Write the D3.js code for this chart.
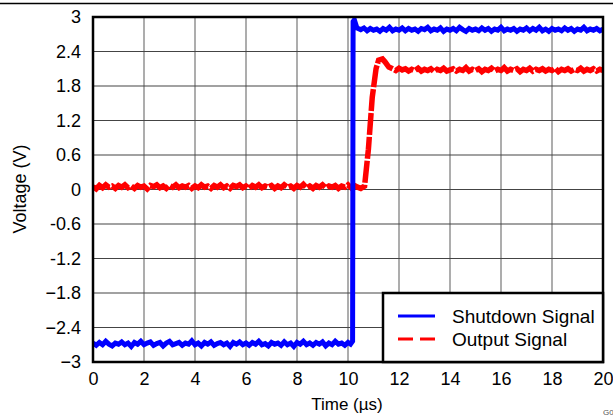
<!DOCTYPE html>
<html><head><meta charset="utf-8">
<script src="https://cdn.jsdelivr.net/npm/d3@7"></script>
<style>body{margin:0;background:#fff}svg{display:block;font-family:"Liberation Sans",Arial,sans-serif}</style>
</head><body><svg id="c" width="613" height="415"></svg>
<script>
const xTicks = [0,2,4,6,8,10,12,14,16,18,20];
const yTicks = [-3,-2.4,-1.8,-1.2,-0.6,0,0.6,1.2,1.8,2.4,3];
const yTickLabels = ["\u22123","\u22122.4","\u22121.8","-1.2","-0.6","0","0.6","1.2","1.8","2.4","3"];
const seriesNames = ["Shutdown Signal","Output Signal"];
const seriesColors = ["#0000ff","#ff0000"];
// [time µs, voltage V]
const shutdownSignal = [
[0,-2.67],[0.125,-2.71],[0.25,-2.66],[0.375,-2.70],[0.5,-2.64],[0.625,-2.69],[0.75,-2.72],[0.875,-2.67],[1,-2.69],[1.125,-2.65],
[1.25,-2.70],[1.375,-2.67],[1.5,-2.73],[1.625,-2.66],[1.75,-2.69],[1.875,-2.64],[2,-2.70],[2.125,-2.67],[2.25,-2.65],[2.375,-2.71],
[2.5,-2.68],[2.625,-2.66],[2.75,-2.72],[2.875,-2.67],[3,-2.64],[3.125,-2.70],[3.25,-2.68],[3.375,-2.66],[3.5,-2.71],[3.625,-2.67],
[3.75,-2.69],[3.875,-2.63],[4,-2.70],[4.125,-2.67],[4.25,-2.72],[4.375,-2.66],[4.5,-2.69],[4.625,-2.65],[4.75,-2.71],[4.875,-2.68],
[5,-2.66],[5.125,-2.70],[5.25,-2.67],[5.375,-2.73],[5.5,-2.66],[5.625,-2.69],[5.75,-2.65],[5.875,-2.70],[6,-2.67],[6.125,-2.71],
[6.25,-2.66],[6.375,-2.69],[6.5,-2.64],[6.625,-2.70],[6.75,-2.68],[6.875,-2.72],[7,-2.66],[7.125,-2.69],[7.25,-2.67],[7.375,-2.71],
[7.5,-2.65],[7.625,-2.70],[7.75,-2.67],[7.875,-2.73],[8,-2.66],[8.125,-2.69],[8.25,-2.64],[8.375,-2.70],[8.5,-2.67],[8.625,-2.71],
[8.75,-2.66],[8.875,-2.69],[9,-2.65],[9.125,-2.72],[9.25,-2.67],[9.375,-2.70],[9.5,-2.64],[9.625,-2.69],[9.75,-2.67],[9.875,-2.71],
[10,-2.66],[10.1,-2.69],[10.18,-2.64],[10.2,2.92],[10.25,2.95],[10.35,2.81],[10.5,2.78],[10.625,2.81],[10.75,2.76],[10.875,2.80],
[11,2.77],[11.125,2.79],[11.25,2.75],[11.375,2.80],[11.5,2.77],[11.625,2.82],[11.75,2.76],[11.875,2.79],[12,2.77],[12.125,2.81],
[12.25,2.76],[12.375,2.80],[12.5,2.77],[12.625,2.79],[12.75,2.75],[12.875,2.80],[13,2.78],[13.125,2.82],[13.25,2.76],[13.375,2.79],
[13.5,2.77],[13.625,2.81],[13.75,2.75],[13.875,2.79],[14,2.77],[14.125,2.80],[14.25,2.76],[14.375,2.82],[14.5,2.78],[14.625,2.75],
[14.75,2.80],[14.875,2.77],[15,2.79],[15.125,2.76],[15.25,2.81],[15.375,2.77],[15.5,2.80],[15.625,2.75],[15.75,2.79],[15.875,2.77],
[16,2.82],[16.125,2.76],[16.25,2.79],[16.375,2.77],[16.5,2.80],[16.625,2.75],[16.75,2.79],[16.875,2.77],[17,2.81],[17.125,2.76],
[17.25,2.80],[17.375,2.77],[17.5,2.82],[17.625,2.76],[17.75,2.79],[17.875,2.75],[18,2.80],[18.125,2.77],[18.25,2.79],[18.375,2.76],
[18.5,2.81],[18.625,2.77],[18.75,2.80],[18.875,2.75],[19,2.79],[19.125,2.77],[19.25,2.82],[19.375,2.76],[19.5,2.79],[19.625,2.77],
[19.75,2.80],[19.875,2.76],[20,2.79]];
const outputSignal = [
[0,0.05],[0.125,0.01],[0.25,0.07],[0.375,0.03],[0.5,0.08],[0.625,0.04],[0.75,0.06],[0.875,0.02],[1,0.07],[1.125,0.04],
[1.25,0.08],[1.375,0.03],[1.5,0.06],[1.625,0.02],[1.75,0.07],[1.875,0.04],[2,0.06],[2.125,0.01],[2.25,0.07],[2.375,0.05],
[2.5,0.08],[2.625,0.03],[2.75,0.06],[2.875,0.02],[3,0.07],[3.125,0.04],[3.25,0.08],[3.375,0.03],[3.5,0.06],[3.625,0.04],
[3.75,0.07],[3.875,0.02],[4,0.06],[4.125,0.03],[4.25,0.08],[4.375,0.04],[4.5,0.06],[4.625,0.02],[4.75,0.07],[4.875,0.04],
[5,0.08],[5.125,0.03],[5.25,0.06],[5.375,0.02],[5.5,0.07],[5.625,0.05],[5.75,0.08],[5.875,0.03],[6,0.06],[6.125,0.02],
[6.25,0.07],[6.375,0.04],[6.5,0.08],[6.625,0.03],[6.75,0.06],[6.875,0.04],[7,0.07],[7.125,0.02],[7.25,0.06],[7.375,0.03],
[7.5,0.08],[7.625,0.04],[7.75,0.06],[7.875,0.02],[8,0.07],[8.125,0.04],[8.25,0.09],[8.375,0.03],[8.5,0.06],[8.625,0.02],
[8.75,0.07],[8.875,0.04],[9,0.08],[9.125,0.03],[9.25,0.06],[9.375,0.04],[9.5,0.07],[9.625,0.02],[9.75,0.06],[9.875,0.04],
[10,0.08],[10.125,0.03],[10.25,0.07],[10.375,0.04],[10.5,0.02],[10.65,0.06],[10.8,0.7],[10.95,1.6],[11.1,2.1],[11.2,2.25],
[11.35,2.27],[11.45,2.22],[11.6,2.13],[11.75,2.10],[11.875,2.07],[12,2.11],[12.125,2.08],[12.25,2.10],[12.375,2.06],[12.5,2.09],
[12.625,2.07],[12.75,2.11],[12.875,2.06],[13,2.09],[13.125,2.07],[13.25,2.10],[13.375,2.05],[13.5,2.09],[13.625,2.07],[13.75,2.11],
[13.875,2.06],[14,2.08],[14.125,2.10],[14.25,2.06],[14.375,2.09],[14.5,2.07],[14.625,2.12],[14.75,2.06],[14.875,2.09],[15,2.07],
[15.125,2.10],[15.25,2.05],[15.375,2.09],[15.5,2.07],[15.625,2.11],[15.75,2.06],[15.875,2.09],[16,2.07],[16.125,2.12],[16.25,2.06],
[16.375,2.09],[16.5,2.07],[16.625,2.10],[16.75,2.05],[16.875,2.09],[17,2.07],[17.125,2.11],[17.25,2.06],[17.375,2.09],[17.5,2.07],
[17.625,2.10],[17.75,2.06],[17.875,2.09],[18,2.07],[18.125,2.11],[18.25,2.05],[18.375,2.09],[18.5,2.07],[18.625,2.10],[18.75,2.06],
[18.875,2.09],[19,2.07],[19.125,2.11],[19.25,2.06],[19.375,2.09],[19.5,2.07],[19.625,2.10],[19.75,2.06],[19.875,2.09],[20,2.07]];

const svg = d3.select("#c");
const m = {l:93, t:17, r:603, b:362};
const x = d3.scaleLinear().domain([0,20]).range([m.l, m.r]);
const y = d3.scaleLinear().domain([-3,3]).range([m.b, m.t]);

svg.append("line").attr("x1",0).attr("x2",613).attr("y1",3.5).attr("y2",3.5).attr("stroke","#000").attr("stroke-width",1.3);

svg.append("g").selectAll("line").data(xTicks.slice(1,-1)).join("line")
  .attr("x1",d=>x(d)).attr("x2",d=>x(d)).attr("y1",m.t).attr("y2",m.b)
  .attr("stroke","#999").attr("stroke-width",1.6);
svg.append("g").selectAll("line").data(yTicks.slice(1,-1)).join("line")
  .attr("x1",m.l).attr("x2",m.r).attr("y1",d=>y(d)).attr("y2",d=>y(d))
  .attr("stroke","#444").attr("stroke-width",1.1);

const xa = svg.append("g").attr("transform",`translate(0,${m.b})`)
  .call(d3.axisBottom(x).tickValues(xTicks).tickSize(0).tickPadding(10).tickFormat(d3.format("d")));
const ya = svg.append("g").attr("transform",`translate(${m.l},0)`)
  .call(d3.axisLeft(y).tickValues(yTicks).tickSize(0).tickPadding(12).tickFormat((d,i)=>yTickLabels[i]));
[xa,ya].forEach(a=>{a.select(".domain").remove();a.selectAll("text").attr("font-size",18).attr("fill","#000").attr("font-family","Liberation Sans, Arial, sans-serif");});

svg.append("clipPath").attr("id","pc").append("rect")
  .attr("x",m.l).attr("y",m.t).attr("width",m.r-m.l).attr("height",m.b-m.t);
const line = d3.line().x(d=>x(d[0])).y(d=>y(d[1]));
const pg = svg.append("g").attr("clip-path","url(#pc)");
pg.append("path").datum(outputSignal).attr("d",line).attr("fill","none")
  .attr("stroke",seriesColors[1]).attr("stroke-width",5.5).attr("stroke-dasharray","22,2");
pg.append("path").datum(shutdownSignal).attr("d",line).attr("fill","none")
  .attr("stroke",seriesColors[0]).attr("stroke-width",5);

svg.append("rect").attr("x",m.l).attr("y",m.t).attr("width",m.r-m.l).attr("height",m.b-m.t)
  .attr("fill","none").attr("stroke","#000").attr("stroke-width",2.5);

const lg = svg.append("g");
lg.append("rect").attr("x",383).attr("y",293).attr("width",220).attr("height",69)
  .attr("fill","#fff").attr("stroke","#000").attr("stroke-width",2.5);
seriesNames.forEach((n,i)=>{
  const yy = 316 + i*23;
  lg.append("line").attr("x1",398).attr("x2",435).attr("y1",yy).attr("y2",yy)
    .attr("stroke",seriesColors[i]).attr("stroke-width",3).attr("stroke-dasharray",i?"15,7":null);
  lg.append("text").attr("x",452).attr("y",yy+7).attr("font-size",19).text(n);
});

svg.append("text").attr("x",347).attr("y",410).attr("text-anchor","middle").attr("font-size",17).text("Time (µs)");
svg.append("text").attr("transform","translate(26,189) rotate(-90)").attr("text-anchor","middle").attr("font-size",18).text("Voltage (V)");
svg.append("text").attr("x",603).attr("y",415).attr("font-size",8).attr("fill","#555").text("G001");
</script></body></html>
